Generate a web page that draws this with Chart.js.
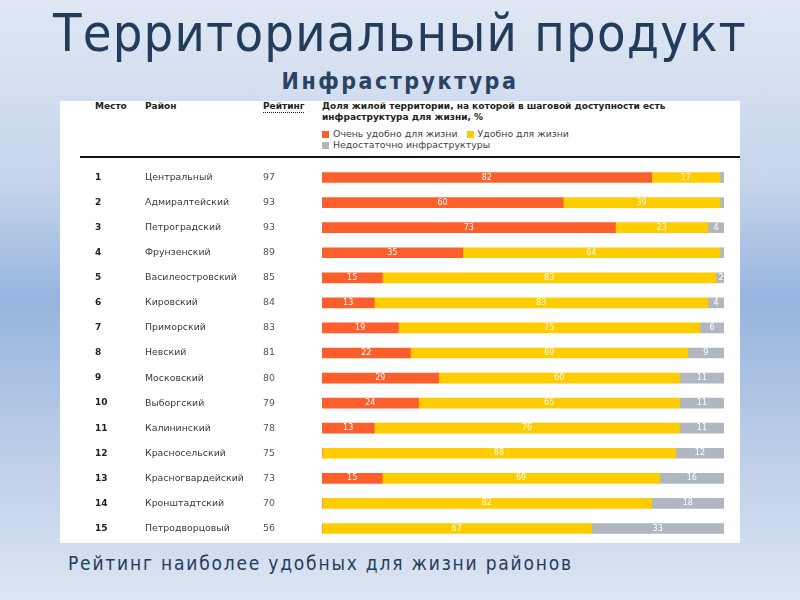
<!DOCTYPE html>
<html>
<head>
<meta charset="utf-8">
<script src="https://cdn.jsdelivr.net/npm/chart.js@4/dist/chart.umd.min.js"></script>
<style>
  html, body { margin: 0; padding: 0; }
  body {
    width: 800px; height: 600px; position: relative; overflow: hidden;
    background: linear-gradient(to bottom, #dfe7f3 0%, #c6d5eb 30%, #97b4de 50%, #bccde8 75%, #dce5f2 100%);
    font-family: "DejaVu Sans", sans-serif;
  }
  #title {
    position: absolute; left: 0; width: 800px; top: 2px; text-align: center;
    font-family: "DejaVu Sans Condensed", "DejaVu Sans", sans-serif;
    font-size: 52px; letter-spacing: 1.2px; color: #243c5c; line-height: 62px;
  }
  #subtitle {
    position: absolute; left: 0; width: 800px; top: 64px; text-align: center;
    font-family: "DejaVu Sans Condensed", "DejaVu Sans", sans-serif;
    font-size: 23px; font-weight: bold; letter-spacing: 2.5px; color: #2a4263; line-height: 34px;
  }
  #footer {
    position: absolute; left: 68px; top: 550px;
    font-family: "DejaVu Sans Condensed", "DejaVu Sans", sans-serif;
    font-size: 19px; letter-spacing: 1.8px; color: #243c5c; line-height: 26px;
  }
  #panel {
    position: absolute; left: 60px; top: 101px; width: 680px; height: 442px; background: #fff;
  }
  .h { position: absolute; font-family: "DejaVu Sans", sans-serif; font-size: 9px; font-weight: bold; color: #222; }
  .lg { position: absolute; font-family: "DejaVu Sans", sans-serif; font-size: 9.4px; color: #444; }
  .sq { display: inline-block; width: 7px; height: 7px; margin-right: 4px; vertical-align: -1px; }
  #rule { position: absolute; left: 20px; right: 0; top: 55px; height: 2px; background: #111; }
  #chartBox { position: absolute; left: 0; top: 64px; width: 680px; height: 376px; }
</style>
</head>
<body>
<div id="title">Территориальный продукт</div>
<div id="subtitle">Инфраструктура</div>
<div id="panel">
  <div class="h" style="left:35px; top:0px;">Место</div>
  <div class="h" style="left:85px; top:0px;">Район</div>
  <div class="h" style="left:203px; top:0px; border-bottom:1px dotted #222; padding-bottom:1px;">Рейтинг</div>
  <div class="h" style="left:262px; top:0px; line-height:11px;">Доля жилой территории, на которой в шаговой доступности есть<br>инфраструктура для жизни, %</div>
  <div class="lg" style="left:262px; top:27px;"><span class="sq" style="background:#fc5f2b"></span>Очень удобно для жизни<span class="sq" style="background:#ffcc00; margin-left:9px"></span>Удобно для жизни</div>
  <div class="lg" style="left:262px; top:38px;"><span class="sq" style="background:#b1b7c1"></span>Недостаточно инфраструктуры</div>
  <div id="rule"></div>
  <div id="chartBox"><canvas id="chart"></canvas></div>
</div>
<div id="footer">Рейтинг наиболее удобных для жизни районов</div>

<script>
const places = ['1', '2', '3', '4', '5', '6', '7', '8', '9', '10', '11', '12', '13', '14', '15'];
const districts = ['Центральный', 'Адмиралтейский', 'Петроградский', 'Фрунзенский', 'Василеостровский',
  'Кировский', 'Приморский', 'Невский', 'Московский', 'Выборгский', 'Калининский',
  'Красносельский', 'Красногвардейский', 'Кронштадтский', 'Петродворцовый'];
const ratings = [97, 93, 93, 89, 85, 84, 83, 81, 80, 79, 78, 75, 73, 70, 56];
const veryGood = [82, 60, 73, 35, 15, 13, 19, 22, 29, 24, 13, 0, 15, 0, 0];
const good = [17, 39, 23, 64, 83, 83, 75, 69, 60, 65, 76, 88, 69, 82, 67];
const lacking = [1, 1, 4, 1, 2, 4, 6, 9, 11, 11, 11, 12, 16, 18, 33];

// колонки таблицы слева и подписи внутри полос
const tablePlugin = {
  id: 'table',
  afterDatasetsDraw(chart) {
    const ctx = chart.ctx;
    const y = chart.scales.y;
    ctx.save();
    ctx.textBaseline = 'middle';
    places.forEach((p, i) => {
      const py = y.getPixelForValue(i);
      ctx.fillStyle = '#222';
      ctx.font = 'bold 9px "DejaVu Sans"';
      ctx.textAlign = 'left';
      ctx.fillText(p, 35, py);
      ctx.fillStyle = '#3a3a3a';
      ctx.font = '9.4px "DejaVu Sans"';
      ctx.fillText(districts[i], 85, py);
      ctx.fillStyle = '#555';
      ctx.fillText(ratings[i], 203, py);
    });
    ctx.fillStyle = '#fff';
    ctx.font = '8px "DejaVu Sans"';
    ctx.textAlign = 'center';
    chart.data.datasets.forEach((ds, di) => {
      chart.getDatasetMeta(di).data.forEach((bar, i) => {
        const v = ds.data[i];
        if (v < 2) return;
        let cx = (bar.x + bar.base) / 2;
        if (v === 2) cx = bar.x - 3;
        ctx.fillText(v, cx, bar.y);
      });
    });
    ctx.restore();
  }
};

new Chart(document.getElementById('chart'), {
  type: 'bar',
  data: {
    labels: districts,
    datasets: [
      { label: 'Очень удобно для жизни', data: veryGood, backgroundColor: '#fc5f2b' },
      { label: 'Удобно для жизни', data: good, backgroundColor: '#ffcc00' },
      { label: 'Недостаточно инфраструктуры', data: lacking, backgroundColor: '#b1b7c1' }
    ]
  },
  options: {
    indexAxis: 'y',
    responsive: true,
    maintainAspectRatio: false,
    animation: false,
    barThickness: 10,
    layout: { padding: { left: 262, right: 16, top: 0, bottom: 0 } },
    scales: {
      x: { stacked: true, min: 0, max: 100, display: false },
      y: { stacked: true, display: false }
    },
    plugins: {
      legend: { display: false },
      tooltip: { enabled: false }
    }
  },
  plugins: [tablePlugin]
});
</script>
</body>
</html>
